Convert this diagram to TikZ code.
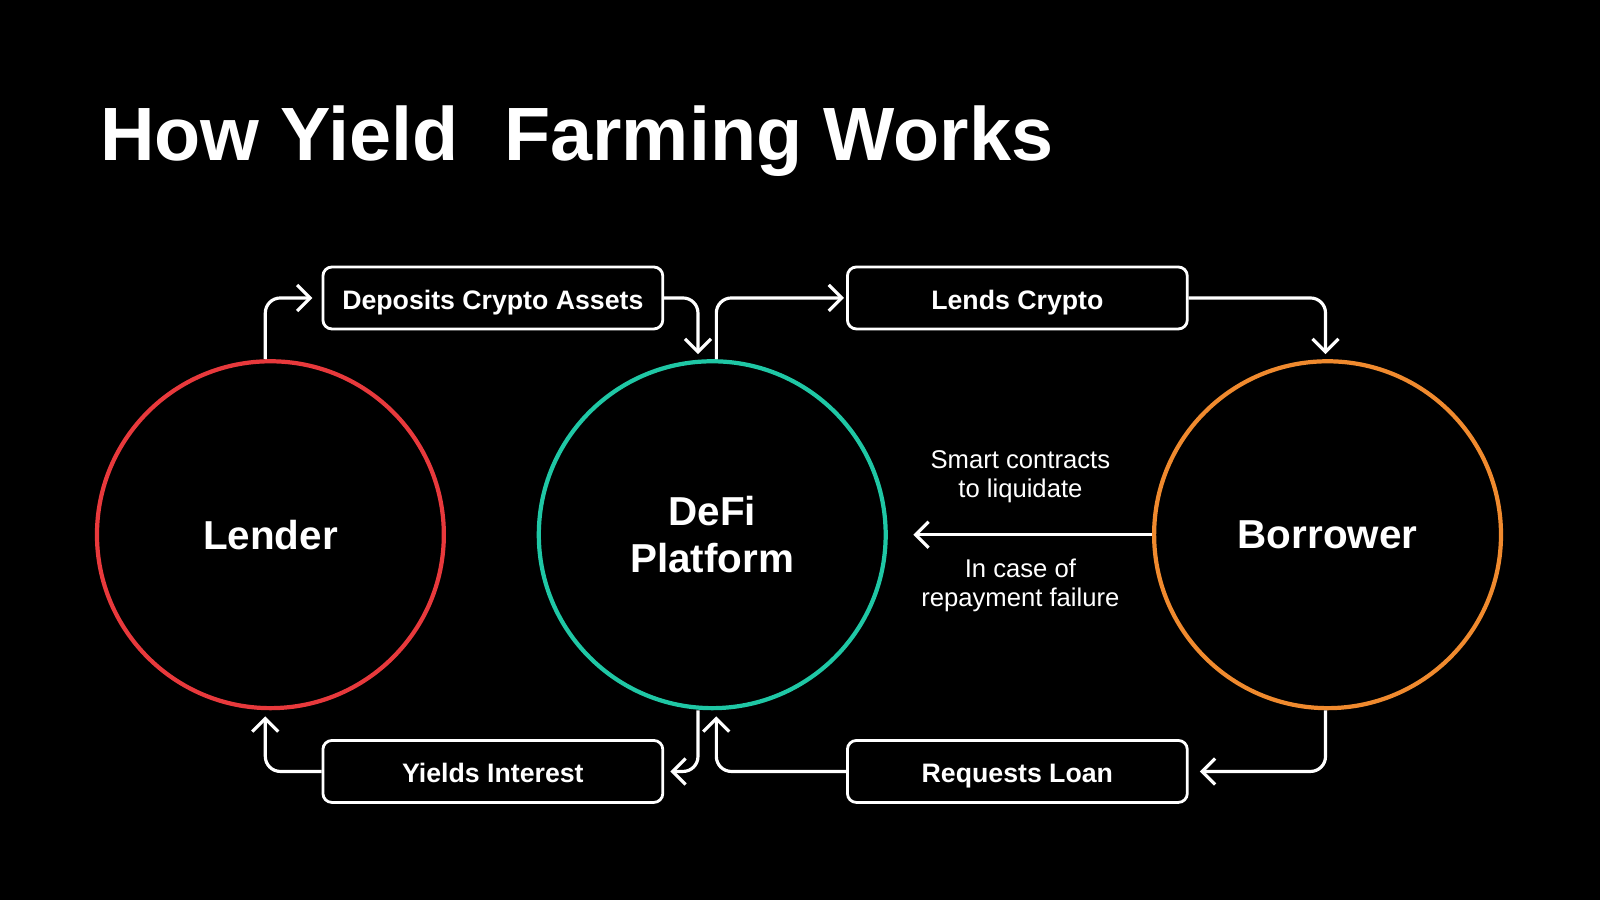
\documentclass[tikz,border=0pt]{standalone}
\usepackage{fontspec}
\setmainfont{Liberation Sans}
\usetikzlibrary{calc,arrows.meta}

\definecolor{lendred}{HTML}{E8393C}
\definecolor{defiteal}{HTML}{1FC7A5}
\definecolor{borrorange}{HTML}{F08A2E}

\begin{document}
\begin{tikzpicture}[x=0.010204cm, y=-0.010204cm,
  party/.style={circle, draw, line width=1.2pt, minimum size=3.47cm, text=white, font=\fontsize{11.5}{13.5}\selectfont\bfseries, align=center},
  action/.style={draw=white, line width=0.8pt, rounded corners=0.09cm, inner sep=1pt, minimum width=3.4cm, minimum height=0.62cm, text height=1.6ex, text depth=0.4ex, text=white, font=\fontsize{7.6}{9}\selectfont\bfseries},
  flow/.style={draw=white, line width=0.9pt, rounded corners=0.15cm, -{Straight Barb[length=1.3mm, width=2.6mm]}},
  note/.style={text=white, font=\fontsize{7.3}{8.2}\selectfont, align=center}]

  \fill[black] (0,0) rectangle (1568,882);

  % Title
  \node[anchor=west, text=white, font=\fontsize{21.5}{25}\selectfont\bfseries] (title) at (86,138) {How Yield\,\, Farming Works};

  % Circles
  \node[party, draw=lendred] (lender) at (265,524) {Lender};
  \node[party, draw=defiteal] (defi) at (698,524) {DeFi\\Platform};
  \node[party, draw=borrorange] (borrower) at (1301,524) {Borrower};

  % Boxes
  \node[action] (deposit) at (483,292) {Deposits Crypto Assets};
  \node[action] (lends) at (997,292) {Lends Crypto};
  \node[action] (yields) at (483,756) {Yields Interest};
  \node[action] (request) at (997,756) {Requests Loan};

  % Upper arrows
  \draw[flow] ($(lender.north)+(-5,0)$) |- ($(deposit.west)+(-9,0)$);
  \draw[flow] (deposit.east) -| ($(defi.north)+(-14,-5)$);
  \draw[flow] ($(defi.north)+(4,0)$) |- ($(lends.west)+(-2,0)$);
  \draw[flow] (lends.east) -| ($(borrower.north)+(-2,-5)$);

  % Lower arrows
  \draw[flow] ($(borrower.south)+(-2,0)$) |- ($(request.east)+(11,0)$);
  \draw[flow] (request.west) -| ($(defi.south)+(4,6)$);
  \draw[flow] ($(defi.south)+(-14,0)$) |- ($(yields.east)+(6,0)$);
  \draw[flow] (yields.west) -| ($(lender.south)+(-5,6)$);

  % Liquidation
  \draw[flow] (borrower.west) -- ($(defi.east)+(25,0)$);
  \node[note] (smart) at (1000,467) {Smart contracts\\to liquidate};
  \node[note] (fail) at (1000,574) {In case of\\repayment failure};

\end{tikzpicture}
\end{document}
